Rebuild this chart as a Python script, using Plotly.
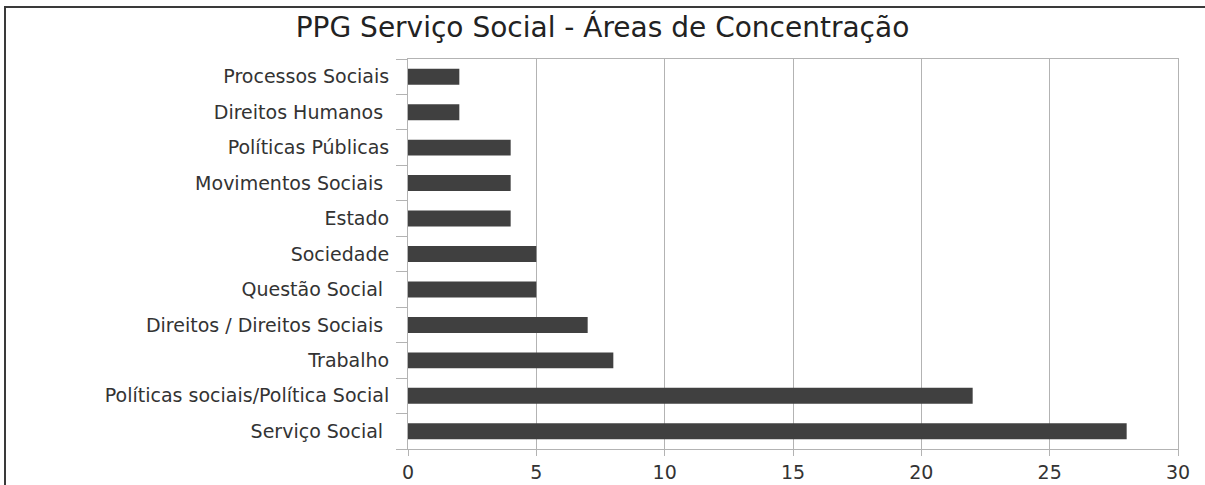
import plotly.graph_objects as go

categories = [
    "Serviço Social ",
    "Políticas sociais/Política Social",
    "Trabalho",
    "Direitos / Direitos Sociais ",
    "Questão Social ",
    "Sociedade",
    "Estado",
    "Movimentos Sociais ",
    "Políticas Públicas",
    "Direitos Humanos ",
    "Processos Sociais",
]
values = [28, 22, 8, 7, 5, 5, 4, 4, 4, 2, 2]
x_ticks = [0, 5, 10, 15, 20, 25, 30]

W, H = 1205, 485
L, R, T, B = 408, 27, 59, 36
pw, ph = W - L - R, H - T - B

def px(x):
    return (x - L) / pw

def py(y):
    return (H - B - y) / ph

font = "DejaVu Sans, Liberation Sans, sans-serif"

fig = go.Figure(go.Bar(
    x=values, y=categories, orientation="h",
    marker=dict(color="#404040", line=dict(width=0)),
))

fig.update_layout(
    width=W, height=H,
    margin=dict(l=L, r=R, t=T, b=B, autoexpand=False),
    paper_bgcolor="white", plot_bgcolor="white",
    bargap=0.55,
    showlegend=False,
    font=dict(family=font, color="#333333", size=19),
    title=dict(text="PPG Serviço Social - Áreas de Concentração",
               x=0.5, xref="container", xanchor="center",
               y=1 - 27 / H, yanchor="middle",
               font=dict(size=28, color="#222222", family=font)),
    xaxis=dict(range=[0, 30], tickvals=x_ticks, showgrid=True,
               gridcolor="#b3b3b3", gridwidth=1, zeroline=False,
               showline=True, linecolor="#b3b3b3", mirror=True,
               ticks="outside", ticklen=6, tickcolor="#b3b3b3",
               ticklabelstandoff=0, automargin=False,
               tickfont=dict(size=19, color="#333333", family=font)),
    yaxis=dict(categoryorder="array", categoryarray=categories,
               showgrid=False, showline=True, linecolor="#b3b3b3", mirror=True,
               ticks="outside", tickson="boundaries", ticklen=11,
               tickcolor="#b3b3b3", ticklabelstandoff=14, automargin=False,
               tickfont=dict(size=19, color="#333333", family=font)),
    shapes=[
        dict(type="line", xref="paper", yref="paper",
             x0=px(5), x1=px(5), y0=py(6), y1=py(H + 5),
             line=dict(color="#3a3a3a", width=2)),
        dict(type="line", xref="paper", yref="paper",
             x0=px(4), x1=px(W + 5), y0=py(7), y1=py(7),
             line=dict(color="#3a3a3a", width=2)),
    ],
)

fig.write_html("out.html")
